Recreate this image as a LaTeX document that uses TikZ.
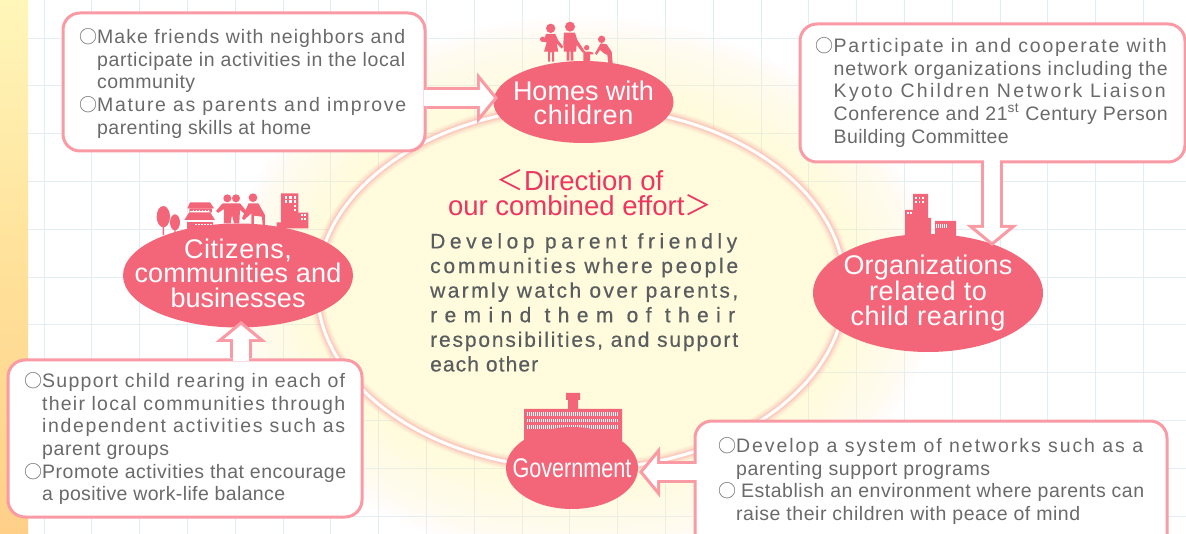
\documentclass[tikz,border=0pt]{standalone}
\usepackage{fontspec}
\usetikzlibrary{shapes.geometric,arrows.meta,calc}
\setmainfont{Liberation Sans}
\newfontfamily\cjk{Noto Sans CJK JP}
\definecolor{pinkfill}{HTML}{F36679}
\definecolor{calloutpink}{HTML}{FA9AA4}
\definecolor{headpink}{HTML}{EC3560}
\definecolor{boxgray}{HTML}{6A6A6A}
\definecolor{centergray}{HTML}{5A5D5F}
\definecolor{gridblue}{HTML}{E2EEF4}
\definecolor{paleyellow}{HTML}{FFFBDC}
\definecolor{glowpink}{HTML}{F9A9A9}
\definecolor{bandtop}{HTML}{FFF6B9}
\definecolor{bandmid}{HTML}{FFE19A}
\definecolor{bandbot}{HTML}{FFCF88}
\newlength\fitw
\newlength\fitn
\ExplSyntaxOn
\NewDocumentCommand\fitline{O{0} m m}{
  \group_begin:
  \settowidth\fitn{#3}
  \int_set:Nn \l_tmpa_int {\int_compare:nNnTF{#1}={0}{\str_count:n{#3}}{#1}}
  \fp_set:Nn \l_tmpa_fp { round( ( #2 - \dim_to_fp:n{\fitn} ) / ( \l_tmpa_int - 1 ) / \use:c{f@size} * 100 , 3) }
  \settowidth\fitw{\exp_args:Ne \addfontfeature {LetterSpace=\fp_to_decimal:N \l_tmpa_fp}#3}
  \fp_compare:nNnT { abs( \dim_to_fp:n{\fitw} - \dim_to_fp:n{\fitn} ) } > { 0.5 }
    { \fp_set:Nn \l_tmpa_fp { round( \l_tmpa_fp * ( #2 - \dim_to_fp:n{\fitn} ) / ( \dim_to_fp:n{\fitw} - \dim_to_fp:n{\fitn} ) , 3) } }
  \exp_args:Ne \addfontfeature {LetterSpace=\fp_to_decimal:N \l_tmpa_fp}
  #3
  \group_end:
}
\ExplSyntaxOff
\newcommand\firstrule{\rule{0pt}{14pt}}
\newcommand\bul{\llap{{\fontsize{18}{18}\cjk ○}}}
\tikzset{
  boxshape/.style={draw=calloutpink,fill=white,line width=3pt,rounded corners=17pt,inner sep=0pt},
  boxtext/.style={anchor=north west,inner sep=0pt,align=left,text=boxgray,font=\fontsize{19.5}{22.6}\selectfont},
  actor/.style={ellipse,fill=pinkfill,inner sep=0pt},
  actortext/.style={inner sep=0pt,text=white,align=center,font=\fontsize{27}{24.5}\selectfont},
  pipeout/.style={line width=21.5pt,draw=calloutpink,-{Triangle[length=21pt,width=50pt]}},
  pipein/.style={line width=15.5pt,draw=white,shorten >=4.1pt,-{Triangle[length=14pt,width=33pt]}},
  sil/.style={fill=pinkfill,draw=none},
  gridline/.style={draw=gridblue,line width=0.8pt},
}
\begin{document}
\begin{tikzpicture}[x=1pt,y=-1pt]
\useasboundingbox (0,0) rectangle (1186,534);
% page
\fill[white] (0,0) rectangle (1186,534);
\fill[top color=bandtop,bottom color=bandmid] (0,0) rectangle (28,267);
\fill[top color=bandmid,bottom color=bandbot] (0,267) rectangle (28,534);
\foreach \k in {0,...,23} \draw[gridline] ({44+47.8*\k},0) -- ({44+47.8*\k},534);
\foreach \k in {0,...,10} \draw[gridline] (28,{38+47.8*\k}) -- (1186,{38+47.8*\k});
% glow
\foreach \r in {90,87,...,0}
  \fill[paleyellow,opacity=0.05] (581,288) ellipse[x radius={264+\r},y radius={181+\r}];
\fill[paleyellow] (581,288) ellipse[x radius=264,y radius=181];
\foreach \w/\o in {14/0.12,11/0.15,8/0.2,6/0.25}
  \draw[glowpink,opacity=\o,line width=\w pt] (581,288) ellipse[x radius=264,y radius=181];
\node[ellipse,draw=white,line width=3pt,minimum width=528pt,minimum height=362pt,inner sep=0pt] (ring) at (581,288) {};
% family
\begin{scope}[shift={(530pt,-10pt)},x=0.3333pt,y=-0.3333pt]
\fill[sil] (62,55) circle[radius=14] (38,88) circle[radius=8];
\fill[sil] (48,72)--(76,72)--(84,90)--(100,110)--(95,116)--(80,100)--(85,125)--(72,125)--(72,155)--(66,155)--(66,127)--(60,127)--(60,155)--(54,155)--(54,125)--(42,125)--(50,97)--(40,95)--cycle;
\fill[sil] (120,50) circle[radius=15];
\fill[sil] (102,68)--(135,68)--(142,90)--(165,125)--(158,128)--(140,105)--(138,125)--(130,125)--(130,152)--(122,152)--(122,125)--(118,125)--(118,152)--(110,152)--(110,125)--(102,125)--(100,100)--cycle;
\fill[sil] (170,113) circle[radius=8];
\fill[sil] (160,125)--(180,125)--(190,128)--(190,133)--(180,133)--(180,155)--(160,155)--cycle;
\fill[sil] (215,88) circle[radius=11];
\fill[sil] (212,100)--(230,103)--(245,125)--(248,160)--(235,160)--(232,135)--(222,130)--(210,120)--(200,135)--(195,130)--cycle;
\end{scope}
% citizens skyline
\begin{scope}[shift={(150pt,-185pt)},x=0.3333pt,y=-0.3333pt]
\fill[sil] (40,95) ellipse[x radius=20,y radius=32] (75,112) ellipse[x radius=15,y radius=24];
\fill[sil] (38,120) rectangle (42,150) (73,130) rectangle (77,150);
\fill[sil] (120,52)--(180,52)--(192,70)--(112,70)--cycle;
\fill[sil] (120,78)--(178,78)--(195,105)--(103,105)--cycle (118,70) rectangle (186,82);
\fill[sil] (112,110) rectangle (190,140);
\draw[white,line width=1.2pt,dash pattern=on 1.5pt off 1.5pt] (128,77)--(182,77) (136,118)--(186,118);
\fill[sil] (232,40) circle[radius=12] (258,40) circle[radius=12] (309,38) circle[radius=13];
\fill[sil] (218,55)--(270,55)--(295,85)--(290,92)--(270,75)--(268,115)--(252,115)--(246,90)--(242,115)--(222,115)--(222,72)--(204,84)--(198,78)--cycle;
\fill[sil] (296,55)--(325,55)--(345,90)--(345,120)--(338,120)--(336,95)--(312,92)--(312,120)--(304,120)--(304,85)--(282,105)--(276,100)--cycle;
\fill[sil] (393,25) rectangle (445,130) (445,83) rectangle (475,130) (380,112) rectangle (393,135);
\foreach \xx in {405,418,431} \foreach \yy in {34,46} \fill[white] (\xx,\yy) rectangle +(7,7);
\foreach \yy in {60,72} \fill[white] (431,\yy) rectangle +(7,7);
\foreach \xx in {452,463} \foreach \yy in {88,100} \fill[white] (\xx,\yy) rectangle +(6,6);
\end{scope}
% organizations skyline
\fill[sil] (913,194) rectangle (928,245) (905,210) rectangle (913,245) (928,218) rectangle (931,245) (935,221) rectangle (956,245);
\foreach \xx in {915,918.5,922} \foreach \yy in {197,201} \fill[white] (\xx,\yy) rectangle +(1.8,2);
\foreach \xx in {907,910} \fill[white] (\xx,212) rectangle +(1.6,2);
\draw[white,line width=4pt,dash pattern=on 1pt off 1pt] (936,226)--(948,226);
% government building
\fill[sil] (524,409) rectangle (622,450) (568,398) rectangle (578,409) (566,393) rectangle (580,400);
\foreach \yy in {414,420.5,427}
  \draw[white,line width=3.5pt,dash pattern=on 1pt off 1pt] (527,\yy)--(619,\yy);
% actors
\node[actor,minimum width=180pt,minimum height=82pt] (homes) at (583.5,102) {};
\node[actor,minimum width=230pt,minimum height=104pt] (citizens) at (238,275.5) {};
\node[actor,minimum width=230pt,minimum height=118pt] (orgs) at (928,293) {};
\node[actor,minimum width=132pt,minimum height=82pt] (gov) at (572,468) {};
\node[actortext] (homeslabel) at ($(homes)+(0,1)$) {\fitline{141}{Homes with}\\\fitline{100}{children}};
\node[actortext] (citizenslabel) at ($(citizens)+(0,-2.5)$) {\fitline{108}{Citizens,}\\\fitline{207}{communities and}\\\fitline{135}{businesses}};
\node[actortext] (orgslabel) at (orgs) {\fitline{169}{Organizations}\\\fitline{118}{related to}\\\fitline{155}{child rearing}};
\node[actortext] (govlabel) at (gov) {\scalebox{0.8}[1]{Government}};
% boxes
\node[boxshape,minimum width=362pt,minimum height=138pt] (box1) at (244,82) {};
\node[boxshape,minimum width=385pt,minimum height=138pt] (box2) at (992.5,93) {};
\node[boxshape,minimum width=354pt,minimum height=157pt] (box3) at (185,438.5) {};
\node[boxshape,minimum width=472pt,minimum height=130pt] (box4) at (931,486) {};
% connectors
\coordinate (tip1) at (498,98);
\coordinate (tip2) at (992,246);
\coordinate (tip3) at (241,321);
\coordinate (tip4) at (639,472);
\draw[pipeout] (box1.east|-tip1) -- (tip1);
\draw[pipeout] (box2.south-|tip2) -- (tip2);
\draw[pipeout] (box3.north-|tip3) -- (tip3);
\draw[pipeout] (box4.west|-tip4) -- (tip4);
\draw[pipein] ($(box1.east|-tip1)+(-3,0)$) -- (tip1);
\draw[pipein] ($(box2.south-|tip2)+(0,-3)$) -- (tip2);
\draw[pipein] ($(box3.north-|tip3)+(0,3)$) -- (tip3);
\draw[pipein] ($(box4.west|-tip4)+(3,0)$) -- (tip4);
% box texts
\node[boxtext] (text1) at (97,28.5) {\firstrule\bul\fitline{308}{Make friends with neighbors and}\\\fitline{308}{participate in activities in the local}\\\fitline{98}{community}\\\bul\fitline{309}{Mature as parents and improve}\\\fitline{214}{parenting skills at home}};
\node[boxtext] (text2) at (833.5,37.5) {\firstrule\bul\fitline{333}{Participate in and cooperate with}\\\fitline{334}{network organizations including the}\\\fitline{332}{Kyoto Children Network Liaison}\\\fitline[33]{334}{Conference and 21\textsuperscript{st} Century Person}\\\fitline{175}{Building Committee}};
\node[boxtext] (text3) at (42,372.5) {\firstrule\bul\fitline{303}{Support child rearing in each of}\\\fitline{303}{their local communities through}\\\fitline{303}{independent activities such as}\\\fitline{127}{parent groups}\\\bul\fitline{304}{Promote activities that encourage}\\\fitline{243}{a positive work-life balance}};
\node[boxtext] (text4) at (736,437.5) {\firstrule\bul\fitline{407}{Develop a system of networks such as a}\\\fitline{254}{parenting support programs}\\\bul\hspace{5pt}\fitline{403}{Establish an environment where parents can}\\\fitline{344}{raise their children with peace of mind}};
% centre text
\node[inner sep=0pt,align=center,text=headpink,font=\fontsize{27.5}{24.5}\selectfont] (head) at (580,192.5) {{\cjk ＜}Direction of\\our combined effort{\cjk ＞}};
\node[anchor=north west,inner sep=0pt,align=left,text=centergray,font=\fontsize{21}{24.6}\selectfont\addfontfeature{FakeBold=0.5}] (msg) at (430,233) {\rule{0pt}{15pt}\fitline{307}{Develop parent friendly}\\\fitline{308}{communities where people}\\\fitline{308}{warmly watch over parents,}\\\fitline{305}{remind them of their}\\\fitline{308}{responsibilities, and support}\\\fitline{108}{each other}};
\end{tikzpicture}
\end{document}
